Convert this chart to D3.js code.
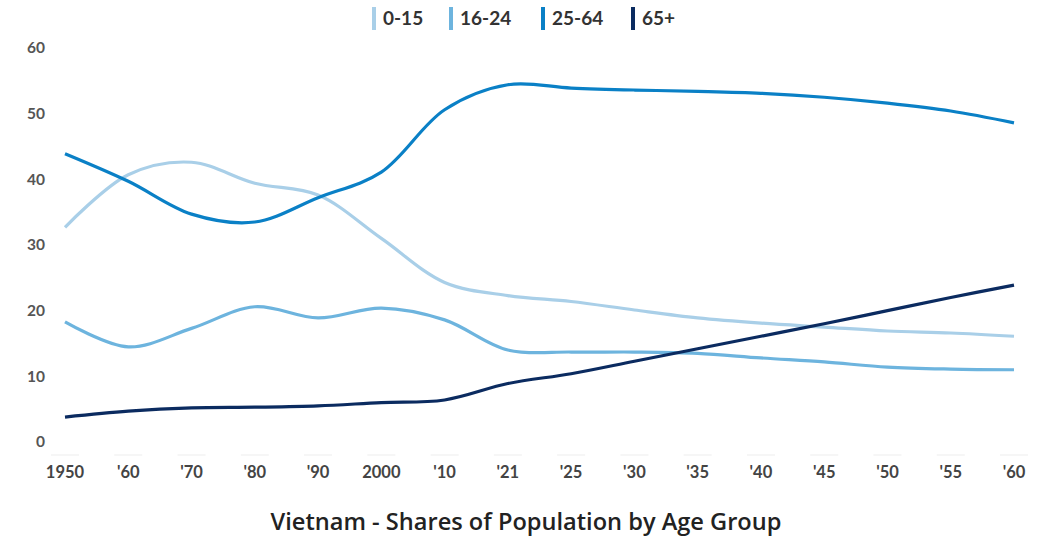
<!DOCTYPE html>
<html>
<head>
<meta charset="utf-8">
<script src="https://cdn.jsdelivr.net/npm/d3@7"></script>
<style>
  body { margin: 0; background: #fff; }
  svg { display: block; }
</style>
</head>
<body>
<div id="chart"></div>
<script>
// x categories (evenly spaced, as in the source chart)
var years = ["1950", "'60", "'70", "'80", "'90", "2000", "'10", "'21", "'25", "'30", "'35", "'40", "'45", "'50", "'55", "'60"];

// shares of population (%) per age group
var age0_15  = [32.7, 40.7, 42.6, 39.4, 37.6, 31.0, 24.3, 22.3, 21.4, 20.1, 18.9, 18.1, 17.5, 16.9, 16.6, 16.1];
var age16_24 = [18.3, 14.5, 17.3, 20.6, 18.9, 20.4, 18.6, 14.0, 13.7, 13.7, 13.5, 12.8, 12.2, 11.4, 11.1, 11.0];
var age25_64 = [43.9, 39.7, 34.7, 33.5, 37.2, 41.1, 50.6, 54.4, 53.9, 53.6, 53.4, 53.1, 52.5, 51.6, 50.4, 48.6];
var age65    = [3.8, 4.7, 5.2, 5.3, 5.5, 6.0, 6.4, 8.9, 10.4, 12.3, 14.2, 16.1, 18.0, 20.0, 22.0, 23.9];

var groups = ["0-15", "16-24", "25-64", "65+"];
var colors = ["#a9cfe8", "#6db4de", "#0a80c6", "#0b2b60"];
var yTicks = [0, 10, 20, 30, 40, 50, 60];

var series = [age0_15, age16_24, age25_64, age65];

var width = 1051, height = 538;

var svg = d3.select("#chart").append("svg")
  .attr("width", width)
  .attr("height", height);

// "'60" shows up twice, so the scale is keyed by index
var x = d3.scalePoint()
  .domain(d3.range(years.length))
  .range([65, 1014]);

var y = d3.scaleLinear()
  .domain([0, 60])
  .range([442, 48]);

// y axis labels
svg.append("g")
  .selectAll("text")
  .data(yTicks)
  .enter().append("text")
    .attr("x", 45)
    .attr("y", function(d) { return y(d); })
    .attr("dy", "0.35em")
    .attr("text-anchor", "end")
    .attr("font-family", "Lato, sans-serif")
    .attr("font-weight", "bold")
    .attr("font-size", 15.5)
    .attr("fill", "#555")
    .text(function(d) { return d; });

// faint tick marks and x labels
svg.append("g")
  .selectAll("line")
  .data(years)
  .enter().append("line")
    .attr("x1", function(d, i) { return x(i) - 14; })
    .attr("x2", function(d, i) { return x(i) + 14; })
    .attr("y1", 455)
    .attr("y2", 455)
    .attr("stroke", "#f6f6f6")
    .attr("stroke-width", 2);

svg.append("g")
  .selectAll("text")
  .data(years)
  .enter().append("text")
    .attr("x", function(d, i) { return x(i); })
    .attr("y", 472)
    .attr("dy", "0.35em")
    .attr("text-anchor", "middle")
    .attr("font-family", "Lato, sans-serif")
    .attr("font-weight", "bold")
    .attr("font-size", 16.5)
    .attr("fill", "#444")
    .text(function(d) { return d; });

var line = d3.line()
  .x(function(d, i) { return x(i); })
  .y(function(d) { return y(d); })
  .curve(d3.curveCatmullRom.alpha(0.5));

svg.append("g")
  .selectAll("path")
  .data(series)
  .enter().append("path")
    .attr("d", line)
    .attr("fill", "none")
    .attr("stroke", function(d, i) { return colors[i]; })
    .attr("stroke-width", 3.2)
    .attr("stroke-linejoin", "round");

// legend
var legendX = [372, 449, 541, 631];
var legend = svg.append("g")
  .selectAll("g")
  .data(groups)
  .enter().append("g")
    .attr("transform", function(d, i) { return "translate(" + legendX[i] + ",7)"; });

legend.append("rect")
  .attr("width", 4)
  .attr("height", 23)
  .attr("fill", function(d, i) { return colors[i]; });

legend.append("text")
  .attr("x", 11)
  .attr("y", 11.5)
  .attr("dy", "0.35em")
  .attr("font-family", "Lato, sans-serif")
  .attr("font-weight", "bold")
  .attr("font-size", 19)
  .attr("fill", "#333")
  .text(function(d) { return d; });

// title
svg.append("text")
  .attr("x", 526)
  .attr("y", 522)
  .attr("dy", "0.35em")
  .attr("text-anchor", "middle")
  .attr("font-family", "'Open Sans', sans-serif")
  .attr("font-weight", 600)
  .attr("font-size", 23.6)
  .attr("fill", "#222")
  .text("Vietnam - Shares of Population by Age Group");
</script>
</body>
</html>
